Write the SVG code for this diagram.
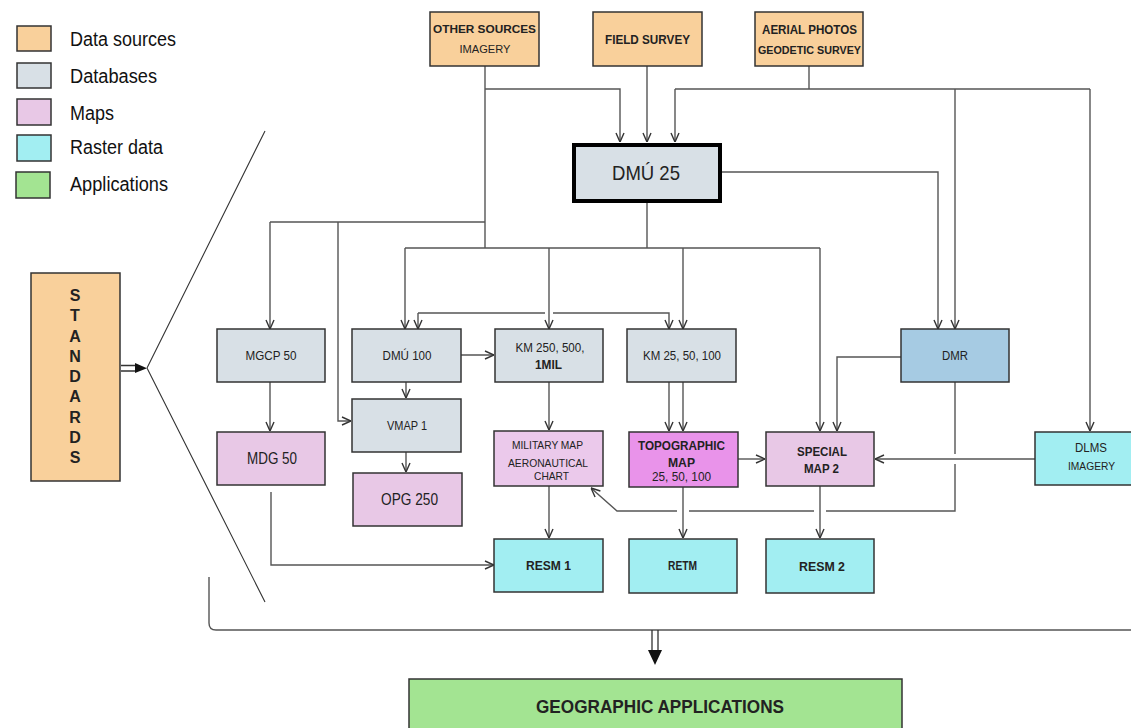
<svg xmlns="http://www.w3.org/2000/svg" width="1131" height="728" viewBox="0 0 1131 728">
<style>
.n{stroke:#333;stroke-width:1.5}
.src{fill:#f9d09b}
.db{fill:#d8e0e6}
.map{fill:#e8c8e6}
.ras{fill:#a2eef2}
.app{fill:#a3e492}
.t{font-family:"Liberation Sans",Arial,sans-serif;fill:#222;text-anchor:middle}
.b{font-weight:bold}
.lg{font-family:"Liberation Sans",Arial,sans-serif;fill:#111;font-size:20px}
.c{fill:none;stroke:#555;stroke-width:1.4}
</style>
<defs>
<marker id="a" viewBox="0 0 10 10" refX="10" refY="5" markerWidth="10" markerHeight="10" markerUnits="userSpaceOnUse" orient="auto">
<path d="M1,1 L10,5 L1,9" fill="none" stroke="#333" stroke-width="1.4"/>
</marker>
</defs>
<rect width="1131" height="728" fill="#fff"/>

<g id="legend">
<rect x="17" y="26" width="34" height="25" class="n src"/>
<rect x="17" y="63" width="34" height="25" class="n db"/>
<rect x="17" y="99" width="34" height="26" class="n map"/>
<rect x="17" y="135" width="34" height="26" class="n ras"/>
<rect x="16" y="172" width="34" height="26" class="n app"/>
<text x="70" y="46" class="lg" textLength="106" lengthAdjust="spacingAndGlyphs">Data sources</text>
<text x="70" y="83" class="lg" textLength="87" lengthAdjust="spacingAndGlyphs">Databases</text>
<text x="70" y="120" class="lg" textLength="44" lengthAdjust="spacingAndGlyphs">Maps</text>
<text x="70" y="154" class="lg" textLength="93" lengthAdjust="spacingAndGlyphs">Raster data</text>
<text x="70" y="191" class="lg" textLength="98" lengthAdjust="spacingAndGlyphs">Applications</text>
</g>

<g id="connectors">
<path class="c" d="M485,66 V248"/>
<path class="c" d="M485,89 H620 V142" marker-end="url(#a)"/>
<path class="c" d="M647,66 V142" marker-end="url(#a)"/>
<path class="c" d="M809,66 V89"/>
<path class="c" d="M675,89 H1090"/>
<path class="c" d="M675,89 V142" marker-end="url(#a)"/>
<path class="c" d="M955,89 V329" marker-end="url(#a)"/>
<path class="c" d="M1090,89 V431" marker-end="url(#a)"/>
<path class="c" d="M722,172 H938 V329" marker-end="url(#a)"/>
<path class="c" d="M647,203 V248"/>
<path class="c" d="M405,248 H820"/>
<path class="c" d="M405,248 V329" marker-end="url(#a)"/>
<path class="c" d="M549,248 V329" marker-end="url(#a)"/>
<path class="c" d="M683,248 V329" marker-end="url(#a)"/>
<path class="c" d="M820,248 V431" marker-end="url(#a)"/>
<path class="c" d="M270,222 H485"/>
<path class="c" d="M270,222 V329" marker-end="url(#a)"/>
<path class="c" d="M338,222 V421 H351" marker-end="url(#a)"/>
<path class="c" d="M418,313 V329" marker-end="url(#a)"/>
<path class="c" d="M418,313 H545 M553,313 H669 V329" marker-end="url(#a)"/>
<path class="c" d="M461,355 H494" marker-end="url(#a)"/>
<path class="c" d="M406,382 V398" marker-end="url(#a)"/>
<path class="c" d="M406,452 V472" marker-end="url(#a)"/>
<path class="c" d="M270,382 V431" marker-end="url(#a)"/>
<path class="c" d="M271,492 V565 H494" marker-end="url(#a)"/>
<path class="c" d="M549,382 V430" marker-end="url(#a)"/>
<path class="c" d="M669,382 V431" marker-end="url(#a)"/>
<path class="c" d="M683,382 V431" marker-end="url(#a)"/>
<path class="c" d="M738,459 H765" marker-end="url(#a)"/>
<path class="c" d="M1035,459 H875" marker-end="url(#a)"/>
<path class="c" d="M901,357 H837 V431" marker-end="url(#a)"/>
<path class="c" d="M955,382 V454 M955,464 V511 H826 M814,511 H689 M677,511 H617 L591,488" marker-end="url(#a)"/>
<path class="c" d="M549,486 V538" marker-end="url(#a)"/>
<path class="c" d="M683,487 V538" marker-end="url(#a)"/>
<path class="c" d="M820,486 V538" marker-end="url(#a)"/>
<path class="c" d="M209,577 V623 Q209,630 216,630 H1131"/>
<path d="M652,630 V651 M658,630 V651" stroke="#333" stroke-width="1.3" fill="none"/>
<path d="M648,650 L662,650 L655,665 Z" fill="#111"/>
<path d="M121,365.5 H135 M121,371 H135" stroke="#333" stroke-width="1.3" fill="none"/>
<path d="M135,363 L147,368.3 L135,373 Z" fill="#111"/>
<path d="M147,368 L265,131 M147,368 L265,602" stroke="#333" stroke-width="1.1" fill="none"/>
</g>

<g id="other-sources">
<rect x="430" y="12" width="109" height="54" class="n src"/>
<text x="484.5" y="33" class="t b" font-size="11.5" textLength="103" lengthAdjust="spacingAndGlyphs">OTHER SOURCES</text>
<text x="485" y="53" class="t" font-size="10.5" textLength="51" lengthAdjust="spacingAndGlyphs">IMAGERY</text>
</g>
<g id="field-survey">
<rect x="593" y="12" width="109" height="54" class="n src"/>
<text x="647.5" y="44" class="t b" font-size="12.5" textLength="85" lengthAdjust="spacingAndGlyphs">FIELD SURVEY</text>
</g>
<g id="aerial-photos">
<rect x="755" y="12" width="108" height="54" class="n src"/>
<text x="809.5" y="34" class="t b" font-size="12" textLength="95" lengthAdjust="spacingAndGlyphs">AERIAL PHOTOS</text>
<text x="809.5" y="54" class="t b" font-size="11" textLength="103" lengthAdjust="spacingAndGlyphs">GEODETIC SURVEY</text>
</g>
<g id="dmu25">
<rect x="574" y="145" width="146" height="56" fill="#d8e0e6" stroke="#000" stroke-width="4"/>
<text x="646" y="180" class="t" font-size="21" textLength="68" lengthAdjust="spacingAndGlyphs">DMÚ 25</text>
</g>
<g id="standards">
<rect x="31" y="273" width="89" height="208" class="n src"/>
<g class="t b" font-size="16">
<text x="75" y="301">S</text>
<text x="75" y="321">T</text>
<text x="75" y="342">A</text>
<text x="75" y="362">N</text>
<text x="75" y="382">D</text>
<text x="75" y="402">A</text>
<text x="75" y="423">R</text>
<text x="75" y="443">D</text>
<text x="75" y="463">S</text>
</g>
</g>
<g id="mgcp50">
<rect x="217" y="329" width="108" height="53" class="n db"/>
<text x="271" y="360" class="t" font-size="12.5" textLength="51" lengthAdjust="spacingAndGlyphs">MGCP 50</text>
</g>
<g id="dmu100">
<rect x="352" y="329" width="109" height="53" class="n db"/>
<text x="407" y="360" class="t" font-size="12.5" textLength="49" lengthAdjust="spacingAndGlyphs">DMÚ 100</text>
</g>
<g id="km250">
<rect x="495" y="329" width="108" height="53" class="n db"/>
<text x="550" y="352" class="t" font-size="12.5" textLength="69" lengthAdjust="spacingAndGlyphs">KM 250, 500,</text>
<text x="548.5" y="369" class="t b" font-size="12.5" textLength="27" lengthAdjust="spacingAndGlyphs">1MIL</text>
</g>
<g id="km25">
<rect x="627" y="329" width="109" height="53" class="n db"/>
<text x="682" y="360" class="t" font-size="12.5" textLength="78" lengthAdjust="spacingAndGlyphs">KM 25, 50, 100</text>
</g>
<g id="dmr">
<rect x="901" y="329" width="108" height="53" class="n" fill="#a6cbe3"/>
<text x="955" y="360" class="t" font-size="12.5" textLength="26" lengthAdjust="spacingAndGlyphs">DMR</text>
</g>
<g id="vmap1">
<rect x="352" y="399" width="109" height="53" class="n db"/>
<text x="407" y="430" class="t" font-size="12.5" textLength="40" lengthAdjust="spacingAndGlyphs">VMAP 1</text>
</g>
<g id="opg250">
<rect x="353" y="473" width="109" height="53" class="n map"/>
<text x="409.5" y="505" class="t" font-size="16" textLength="57" lengthAdjust="spacingAndGlyphs">OPG 250</text>
</g>
<g id="mdg50">
<rect x="217" y="432" width="108" height="53" class="n map"/>
<text x="272" y="464" class="t" font-size="16" textLength="50" lengthAdjust="spacingAndGlyphs">MDG 50</text>
</g>
<g id="military-map">
<rect x="494" y="431" width="109" height="55" class="n" fill="#ebc9eb" stroke="#222"/>
<text x="547.5" y="449" class="t" font-size="10.5" textLength="71" lengthAdjust="spacingAndGlyphs">MILITARY MAP</text>
<text x="548" y="467" class="t" font-size="10.5" textLength="80" lengthAdjust="spacingAndGlyphs">AERONAUTICAL</text>
<text x="551.5" y="480" class="t" font-size="10.5" textLength="35" lengthAdjust="spacingAndGlyphs">CHART</text>
</g>
<g id="topographic-map">
<rect x="629" y="432" width="109" height="55" class="n" fill="#e993ea" stroke="#222"/>
<text x="681.5" y="450" class="t b" font-size="12.5" textLength="87" lengthAdjust="spacingAndGlyphs">TOPOGRAPHIC</text>
<text x="681.5" y="467" class="t b" font-size="12.5" textLength="27" lengthAdjust="spacingAndGlyphs">MAP</text>
<text x="681.5" y="481" class="t" font-size="12.5" textLength="59" lengthAdjust="spacingAndGlyphs">25, 50, 100</text>
</g>
<g id="special-map-2">
<rect x="766" y="432" width="108" height="54" class="n map"/>
<text x="822" y="456" class="t b" font-size="12.5" textLength="50" lengthAdjust="spacingAndGlyphs">SPECIAL</text>
<text x="821.5" y="473" class="t b" font-size="12.5" textLength="35" lengthAdjust="spacingAndGlyphs">MAP 2</text>
</g>
<g id="dlms">
<rect x="1035" y="432" width="100" height="53" class="n ras"/>
<text x="1091" y="452" class="t" font-size="12.5" textLength="32" lengthAdjust="spacingAndGlyphs">DLMS</text>
<text x="1091.5" y="470" class="t" font-size="10.5" textLength="47" lengthAdjust="spacingAndGlyphs">IMAGERY</text>
</g>
<g id="resm1">
<rect x="494" y="539" width="109" height="53" class="n ras"/>
<text x="548.5" y="570" class="t b" font-size="12" textLength="45" lengthAdjust="spacingAndGlyphs">RESM  1</text>
</g>
<g id="retm">
<rect x="629" y="539" width="108" height="54" class="n ras"/>
<text x="682.5" y="570" class="t b" font-size="12" textLength="29" lengthAdjust="spacingAndGlyphs">RETM</text>
</g>
<g id="resm2">
<rect x="766" y="539" width="108" height="54" class="n ras"/>
<text x="822" y="571" class="t b" font-size="12" textLength="46" lengthAdjust="spacingAndGlyphs">RESM  2</text>
</g>
<g id="geographic-applications">
<rect x="409" y="679" width="493" height="60" class="n app"/>
<text x="660" y="713" class="t b" font-size="19" textLength="248" lengthAdjust="spacingAndGlyphs">GEOGRAPHIC APPLICATIONS</text>
</g>
</svg>
